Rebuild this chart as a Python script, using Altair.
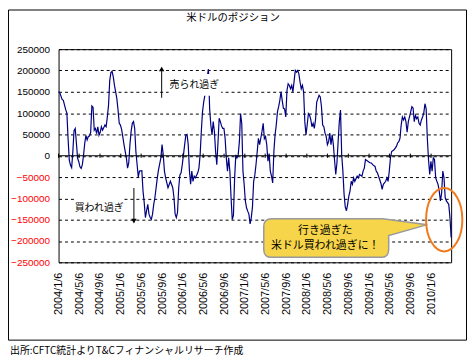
import altair as alt
import pandas as pd

# ---- data (weekly CFTC net position) ----
start_date = "2004-01-06"
end_date = "2010-05-04"
weeks = [0, 1, 3, 4, 6, 7, 8, 9, 10, 11, 12, 13, 14, 15, 16, 17, 18, 19, 20, 21, 22, 23, 24, 25, 26, 27, 28, 29, 30,
         31, 32, 33, 34, 35, 36, 37, 39, 40, 41, 42, 43, 44, 45, 46, 47, 48, 49, 50, 51, 52, 53, 54, 55, 57, 58, 59, 60,
         61, 62, 63, 64, 65, 66, 67, 68, 70, 71, 72, 73, 74, 75, 76, 77, 78, 79, 80, 81, 82, 83, 84, 86, 87, 88, 89, 90,
         92, 94, 96, 97, 98, 99, 100, 101, 102, 103, 104, 105, 106, 107, 108, 109, 110, 111, 112, 113, 114, 115, 117,
         118, 119, 120, 121, 122, 123, 124, 125, 126, 127, 128, 129, 130, 131, 132, 133, 134, 135, 136, 137, 138, 139,
         140, 141, 142, 143, 144, 145, 146, 147, 148, 149, 150, 151, 152, 153, 154, 155, 156, 157, 158, 159, 160, 161,
         162, 163, 164, 165, 166, 167, 168, 169, 170, 171, 172, 173, 174, 175, 176, 177, 178, 179, 180, 181, 182, 183,
         184, 185, 186, 187, 188, 189, 190, 191, 192, 193, 194, 195, 196, 197, 198, 199, 200, 201, 202, 203, 204, 205,
         206, 207, 208, 209, 210, 211, 212, 213, 214, 215, 216, 217, 218, 219, 220, 221, 222, 223, 224, 225, 226, 227,
         228, 229, 230, 231, 232, 233, 234, 235, 236, 237, 238, 239, 240, 241, 242, 243, 244, 245, 246, 247, 248, 249,
         251, 252, 253, 255, 256, 257, 258, 260, 262, 263, 264, 266, 267, 268, 269, 271, 272, 273, 275, 276, 277, 278,
         279, 280, 282, 283, 284, 285, 286, 287, 288, 289, 290, 291, 292, 293, 294, 295, 296, 297, 298, 299, 300, 301,
         302, 303, 304, 305, 306, 307, 308, 309, 310, 311, 312, 313, 314, 315, 316, 317, 318, 319, 320, 321, 322, 323,
         324, 325, 326, 327, 328, 329, 330]
positions = [150000, 148000, 132000, 130000, 108000, 100000, 40000, -10000, -22000, -28000, 9000, 59000, 64000, 30000,
             -6000, -14000, -26000, -30000, -21000, 1000, 29000, 48000, 37000, 45000, 46000, 55000, 117000, 114000,
             60000, 64000, 52000, 68000, 48000, 55000, 68000, 60000, 72000, 68000, 91000, 118000, 176000, 195000,
             198000, 185000, 165000, 150000, 134000, 107000, 76000, 72000, 62000, 45000, 26000, -5000, -29000, -17000,
             26000, 57000, 76000, 80000, 64000, 10000, -20000, -50000, -36000, -35000, -83000, -110000, -145000,
             -129000, -114000, -137000, -145000, -149000, -137000, -114000, -98000, -75000, -52000, -33000, -5000,
             26000, 2000, -36000, -52000, -75000, -60000, -75000, -98000, -137000, -145000, -133000, -75000, -45000,
             -40000, -21000, 2000, 26000, 49000, 50000, 26000, -35000, -67000, -36000, -60000, -48000, -52000, -40000,
             -29000, 2000, 57000, 103000, 126000, 142000, 170000, 185000, 203000, 110000, 72000, 49000, 80000, 57000,
             10000, -21000, 30000, 88000, 80000, 70000, 64000, 64000, 41000, -5000, -36000, -5000, -36000, -98000,
             -150000, -140000, -52000, 2000, -5000, 2000, 33000, 99000, 75000, -36000, -67000, -106000, -122000,
             -130000, -137000, -160000, -145000, -120000, -60000, -45000, -20000, 10000, 41000, 26000, 41000, 57000,
             76000, 40000, 45000, 26000, -13000, 5000, -36000, -48000, -64000, 10000, 49000, 72000, 103000, 115000,
             130000, 150000, 130000, 111000, 110000, 91000, 153000, 169000, 165000, 157000, 165000, 150000, 175000,
             200000, 196000, 200000, 192000, 173000, 157000, 165000, 150000, 80000, 49000, 72000, 99000, 95000, 85000,
             68000, 76000, 64000, 84000, 126000, 134000, 142000, 138000, 115000, 72000, 68000, 53000, 45000, 26000,
             33000, 53000, 26000, 49000, 26000, -10000, -44000, -17000, 33000, 80000, 107000, 2000, -36000, -90000,
             -120000, -129000, -114000, -95000, -83000, -60000, -67000, -52000, -60000, -48000, -52000, -44000,
             -48000, -36000, -29000, -9000, -13000, -17000, -17000, -21000, -25000, -36000, -40000, -48000, -65000,
             -79000, -67000, -60000, -52000, -60000, -36000, -5000, 10000, 14000, 18000, 22000, 30000, 33000, 41000,
             72000, 91000, 84000, 91000, 80000, 55000, 80000, 91000, 103000, 115000, 112000, 80000, 95000, 87000,
             91000, 76000, 72000, 84000, 91000, 100000, 122000, 110000, 40000, -10000, -44000, -13000, -36000, -5000,
             -9000, -52000, -60000, -67000, -83000, -106000, -88000, -36000, -52000, -98000, -106000, -110000,
             -114000, -145000, -192000]
tick_labels = ["2004/1/6", "2004/5/6", "2004/9/6", "2005/1/6", "2005/5/6", "2005/9/6", "2006/1/6", "2006/5/6",
               "2006/9/6", "2007/1/6", "2007/5/6", "2007/9/6", "2008/1/6", "2008/5/6", "2008/9/6", "2009/1/6",
               "2009/5/6", "2009/9/6", "2010/1/6"]
y_ticks = [-250000, -200000, -150000, -100000, -50000, 0, 50000, 100000, 150000, 200000, 250000]

title_text = "米ドルのポジション"
footer_text = "出所:CFTC統計よりT&Cフィナンシャルリサーチ作成"
note_up = "売られ過ぎ"
note_down = "買われ過ぎ"
callout_lines = ["行き過ぎた", "米ドル買われ過ぎに！"]

# ---- build ----
t0 = pd.Timestamp(start_date)
df = pd.DataFrame({"date": [t0 + pd.Timedelta(days=7 * w) for w in weeks], "value": positions})


def to_dt(s):
    y, m, d = (int(v) for v in s.split("/"))
    return alt.DateTime(year=y, month=m, date=d)


tick_dt = [to_dt(s) for s in tick_labels]
ticks_df = pd.DataFrame({"date": [pd.to_datetime(s, format="%Y/%m/%d") for s in tick_labels]})
one = pd.DataFrame({"k": [0]})

JP = "Noto Sans CJK JP"
LAT = "Liberation Sans"
W, H = 396, 215

x_enc = alt.X(
    "date:T",
    scale=alt.Scale(domain=[to_dt("2004/1/6"), to_dt("2010/5/4")]),
    axis=alt.Axis(values=tick_dt, tickCount=40, format="%Y/%-m/%-d", labelAngle=270, labelPadding=10,
                  ticks=False, domain=False, grid=False, title=None, labelFontSize=11, labelFont=LAT,
                  labelColor="black", labelOverlap=False, labelFlush=False, labelBound=False),
)
y_enc = alt.Y(
    "value:Q",
    scale=alt.Scale(domain=[-250000, 250000], nice=False, zero=False),
    axis=alt.Axis(values=y_ticks, tickCount=40, format="d", title=None, ticks=False, domain=False, grid=True,
                  gridDash=[3, 3], gridColor="black", gridOpacity=1, gridWidth=1, labelPadding=9,
                  labelFontSize=10, labelFont=LAT, labelOverlap=False, labelFlush=False, labelBound=False,
                  labelColor={"expr": "datum.value < 0 ? '#FF0000' : '#000000'"}),
)

line = alt.Chart(df).mark_line(color="#000080", strokeWidth=1.2).encode(x=x_enc, y=y_enc)

zero = alt.Chart(one).mark_rule(color="black", strokeWidth=1).encode(y=alt.datum(0))
xticks = alt.Chart(ticks_df).mark_rule(color="black", strokeWidth=1).encode(
    x="date:T", y=alt.datum(-5000), y2=alt.datum(5000))


def vrect(x1, x2, y1, y2, **kw):
    return alt.Chart(one).mark_rect(**kw).encode(
        x=alt.value(x1), x2=alt.value(x2), y=alt.value(y1), y2=alt.value(y2))


def vtext(txt, x, y, size=10, font=JP, align="center"):
    return alt.Chart(one).mark_text(text=txt, font=font, fontSize=size, align=align, baseline="middle",
                                    color="black").encode(x=alt.value(x), y=alt.value(y))


def vrule(x, y1, y2):
    return alt.Chart(one).mark_rule(color="black", strokeWidth=1).encode(
        x=alt.value(x), y=alt.value(y1), y2=alt.value(y2))


def vsym(shape, x, y, size, **kw):
    return alt.Chart(one).mark_point(shape=shape, size=size, opacity=1, **kw).encode(
        x=alt.value(x), y=alt.value(y))


# page px -> view coords
def px(v):
    return v - 59


def py(v):
    return v - 48


def unit_path(pts_cmds, cx, cy, s):
    out = []
    for c in pts_cmds:
        if isinstance(c, str):
            out.append(c)
        else:
            out.append(f"{(c[0]-cx)/s:.4f} {(c[1]-cy)/s:.4f}")
    return " ".join(out)


cx, cy, s = 348.5, 238.5, 82.5
callout_path = unit_path([
    "M", (274, 219), "L", (386, 219), "L", (431, 225), "L", (392, 236), "L", (392, 250),
    "Q", (392, 258), (384, 258), "L", (274, 258), "Q", (266, 258), (266, 250), "L", (266, 227),
    "Q", (266, 219), (274, 219), "Z"], cx, cy, s)
ellipse_path = "M -0.572 0 A 0.572 1 0 1 0 0.572 0 A 0.572 1 0 1 0 -0.572 0 Z"

layers = [
    line, zero, xticks,
    vrect(px(170), px(223), py(73), py(95), fill="white"),
    vrect(px(76), px(125), py(197), py(218), fill="white"),
    vtext(note_up, px(196), py(84)),
    vtext(note_down, px(100), py(208)),
    vrule(px(163), py(97), py(70)),
    vsym("triangle-up", px(163), py(68), 30, filled=True, color="black"),
    vrule(px(135), py(188), py(220)),
    vsym("triangle-down", px(135), py(221.5), 30, filled=True, color="black"),
    vsym(callout_path, px(cx), py(cy), (2 * s) ** 2, filled=True, fill="#F7D54A", stroke="#9A9A9A",
         strokeWidth=1.5),
    vtext(callout_lines[0], px(328), py(231), size=11),
    vtext(callout_lines[1], px(328), py(247), size=11),
    vsym(ellipse_path, px(448), py(220), 64 * 64, filled=False, stroke="#F07A1E", strokeWidth=2),
    vtext(title_text, px(235), py(17), size=10.5),
    vtext(footer_text, px(10), py(352), size=10, align="left"),
    vrect(px(8.5), px(470.5), py(8.5), py(341.5), fillOpacity=0, stroke="black", strokeWidth=1),
]

chart = alt.layer(*layers).properties(
    width=W, height=H,
    autosize=alt.AutoSizeParams(type="none"),
    padding={"left": 51, "top": 40, "right": 16, "bottom": 95},
    background="white",
).configure_view(stroke="black", strokeWidth=1)

chart.save("out.html", embed_options={"renderer": "svg", "actions": False})
